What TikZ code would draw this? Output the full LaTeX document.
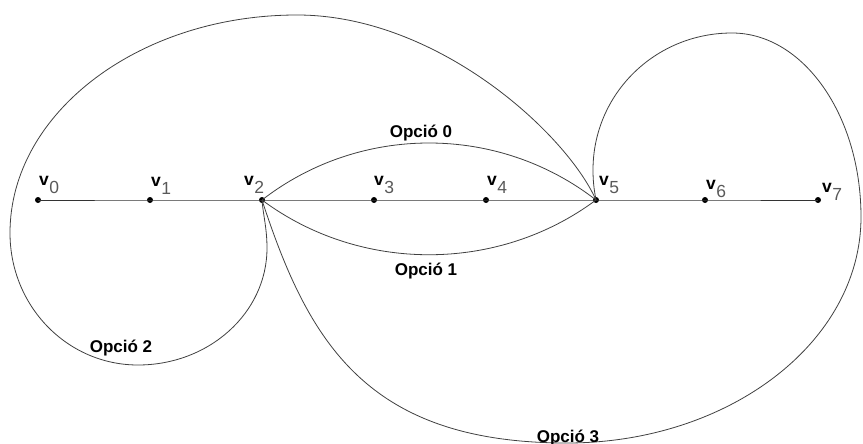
\documentclass[tikz,border=0pt]{standalone}
\usepackage{fontspec}
\setmainfont{Liberation Sans}
\tikzset{
  dot/.style={circle,fill=black,inner sep=0pt,minimum size=6pt},
  edge/.style={draw=black!80,line width=0.9pt},
  curve/.style={draw=black!75,line width=0.8pt},
  vlabel/.style={anchor=base west,inner sep=0pt},
  optlabel/.style={anchor=base,inner sep=0pt,font=\fontsize{17}{17}\selectfont\bfseries}
}
\newcommand\vlab[1]{{\fontsize{17.5}{17.5}\selectfont\bfseries v}\hspace{0.5pt}\raisebox{-8.5pt}{\fontsize{17.5}{17.5}\selectfont\color{black!65}#1}}
\begin{document}
\begin{tikzpicture}[x=1pt,y=-1pt]
\useasboundingbox (0,0) rectangle (863,444);
% vertices
\node[dot] (v0) at (38,200) {};
\node[dot] (v1) at (150,200) {};
\node[dot] (v2) at (262,200) {};
\node[dot] (v3) at (374,200) {};
\node[dot] (v4) at (486,200) {};
\node[dot] (v5) at (596,200) {};
\node[dot] (v6) at (705,200) {};
\node[dot] (v7) at (818,200) {};
% labels
\node[vlabel] (l0) at (39,185) {\vlab{0}};
\node[vlabel] (l1) at (151,186) {\vlab{1}};
\node[vlabel] (l2) at (244,185) {\vlab{2}};
\node[vlabel] (l3) at (374,185) {\vlab{3}};
\node[vlabel] (l4) at (487,185) {\vlab{4}};
\node[vlabel] (l5) at (599,185) {\vlab{5}};
\node[vlabel] (l6) at (706,189) {\vlab{6}};
\node[vlabel] (l7) at (822,192) {\vlab{7}};
% straight path
\draw[edge] (v0.center) -- (v1.center) -- (v2.center) -- (v3.center) -- (v4.center) -- (v5.center) -- (v6.center) -- (v7.center);
% Opcio 0 and 1
\draw[curve] (v2.center) .. controls (360,124) and (498,124) .. (v5.center);
\draw[curve] (v2.center) .. controls (360,273) and (498,273) .. (v5.center);
% Opcio 2 big loop
\coordinate (a1) at (297,15);
\coordinate (a2) at (10,233);
\coordinate (a3) at (138,365);
\coordinate (a4) at (267,248);
\draw[curve] (v5.center) .. controls (566,133) and (437,15) .. (a1)
  .. controls (139,15) and (10,113) .. (a2)
  .. controls (10,306) and (67,365) .. (a3)
  .. controls (209,365) and (267,313) .. (a4)
  .. controls (267,228) and (263,214) .. (v2.center);
% Opcio 3 loop
\coordinate (b1) at (567,443);
\coordinate (b2) at (861,217);
\coordinate (b3) at (732,33);
\coordinate (b4) at (593,170);
\draw[curve] (v2.center) .. controls (308.5,342.5) and (367,443) .. (b1)
  .. controls (729,443) and (861,342) .. (b2)
  .. controls (861,115) and (803,33) .. (b3)
  .. controls (655,33) and (593,94) .. (b4)
  .. controls (593,185) and (595,194) .. (v5.center);
% option labels
\node[optlabel] (o0) at (421,137) {Opció 0};
\node[optlabel] (o1) at (426,275) {Opció 1};
\node[optlabel] (o2) at (121,352) {Opció 2};
\node[optlabel] (o3) at (568,442) {Opció 3};
\end{tikzpicture}
\end{document}
